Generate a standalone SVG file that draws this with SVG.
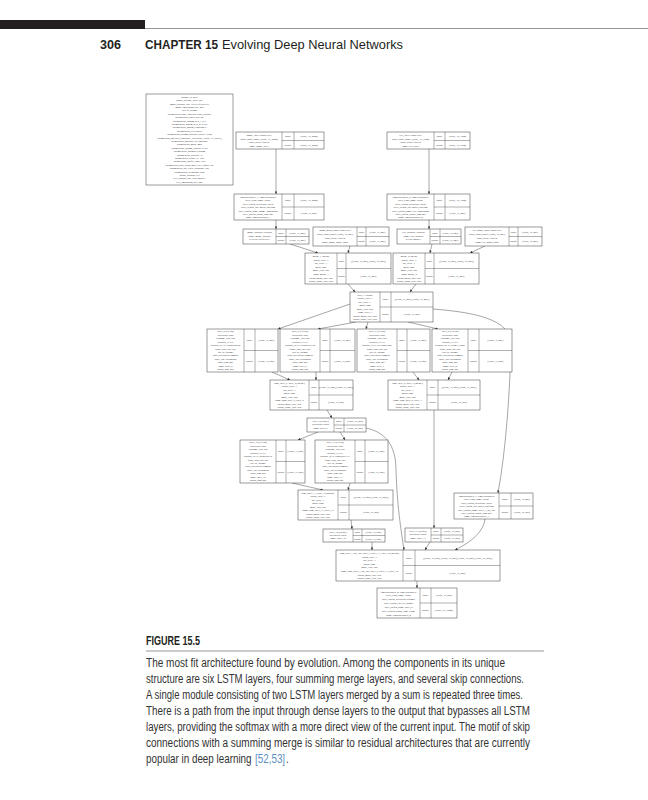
<svg xmlns="http://www.w3.org/2000/svg" width="648" height="800" viewBox="0 0 648 800">
<defs>
<style>
.nd rect{fill:#fff;stroke:#3a3a3a;stroke-width:.5}
.nd line{stroke:#3a3a3a;stroke-width:.4}
.nd text{font-family:"Liberation Serif",serif;font-size:2.5px;fill:#222;text-anchor:middle}
.e{fill:none;stroke:#3a3a3a;stroke-width:.45;marker-end:url(#ah)}
.hd{font-family:"Liberation Sans Narrow","Liberation Sans",sans-serif;font-size:13px;fill:#231f20}
.cap{font-family:"Liberation Sans Narrow","Liberation Sans",sans-serif;font-size:12px;fill:#333}
.capw{font-family:"Liberation Sans",sans-serif;font-size:12px;fill:#333}
.ref{fill:#5b8fc0}
</style>
<marker id="ah" viewBox="0 0 6 6" refX="6" refY="3" markerWidth="2.6" markerHeight="2.6" markerUnits="userSpaceOnUse" orient="auto"><path d="M0,0L6,3L0,6z" fill="#333"/></marker>
</defs>
<rect width="648" height="800" fill="#fff"/>
<g id="header">
<rect x="0" y="20" width="145" height="9" fill="#231f20"/>
<line x1="145" y1="28.5" x2="648" y2="28.5" stroke="#8a8a8a" stroke-width="0.9"/>
<text class="hd" x="100" y="49" font-weight="bold" font-size="14" textLength="21" lengthAdjust="spacingAndGlyphs">306</text>
<text class="hd" x="145" y="49" font-weight="bold" font-size="12.5" textLength="73" lengthAdjust="spacingAndGlyphs">CHAPTER 15</text>
<text class="hd" x="222" y="49" textLength="181" lengthAdjust="spacingAndGlyphs">Evolving Deep Neural Networks</text>
</g>
<g id="connectors">
<path class="e" d="M276,149L276,194"/>
<path class="e" d="M429,149L429,194"/>
<path class="e" d="M276,220L276,229"/>
<path class="e" d="M429,220L429,229"/>
<path class="e" d="M290,244L318,253"/>
<path class="e" d="M350,246L348,253"/>
<path class="e" d="M432,244L430,253"/>
<path class="e" d="M485,246L470,253"/>
<path class="e" d="M348,284L355,292"/>
<path class="e" d="M416,284L410,292"/>
<path class="e" d="M350,304L278,329"/>
<path class="e" d="M356,322L318,329"/>
<path class="e" d="M368,322L366,329"/>
<path class="e" d="M408,322L438,329"/>
<path class="e" d="M433,309C470,312 512,318 511,345C510,390 506,450 498,493"/>
<path class="e" d="M272,372L290,380"/>
<path class="e" d="M316,372L316,380"/>
<path class="e" d="M413,372L419,380"/>
<path class="e" d="M452,372L448,380"/>
<path class="e" d="M327,410L332,418"/>
<path class="e" d="M434,410L434,528"/>
<path class="e" d="M318,432L298,440"/>
<path class="e" d="M340,432L345,440"/>
<path class="e" d="M366,428C385,432 396,445 396,470C397,505 401,530 404,550"/>
<path class="e" d="M292,483L323,490"/>
<path class="e" d="M350,483L348,490"/>
<path class="e" d="M351,520L352,529"/>
<path class="e" d="M372,542L372,550"/>
<path class="e" d="M430,542L425,550"/>
<path class="e" d="M485,519C483,535 465,545 455,550"/>
<path class="e" d="M417,581L417,588"/>
</g>
<g id="hyperparams" class="nd">
<rect x="146" y="94" width="87" height="91"/>
<text x="189.5" y="97.8"><tspan x="189.5">chromo_id: 4576</tspan><tspan x="189.5" dy="3.4">global_average_pool: true</tspan><tspan x="189.5" dy="3.4">image_dropout_rate: 0.0161361661977</tspan><tspan x="189.5" dy="3.4">image_embedding_size: 427</tspan><tspan x="189.5" dy="3.4">init: he_normal</tspan><tspan x="189.5" dy="3.4">optimization_base_function: cross_entropy</tspan><tspan x="189.5" dy="3.4">optimization_batch_size: 26</tspan><tspan x="189.5" dy="3.4">optimization_nadam_beta_1: 0.9</tspan><tspan x="189.5" dy="3.4">optimization_nadam_beta_2: 0.999</tspan><tspan x="189.5" dy="3.4">optimization_nadam_clipnorm: 5</tspan><tspan x="189.5" dy="3.4">optimization_lr: 0.00215</tspan><tspan x="189.5" dy="3.4">optimization_nadam_schedule_decay: 0.004</tspan><tspan x="189.5" dy="3.4">optimization_metrics: ['fmeasure', 'precision', 'recall', 'f1_score']</tspan><tspan x="189.5" dy="3.4">optimization_monitor: val_fmeasure</tspan><tspan x="189.5" dy="3.4">optimization_mode: max</tspan><tspan x="189.5" dy="3.4">optimization_nadam_epsilon: 1e-08</tspan><tspan x="189.5" dy="3.4">optimization_optimizer: nadam</tspan><tspan x="189.5" dy="3.4">optimization_patience: 5</tspan><tspan x="189.5" dy="3.4">optimization_reduce_lr: True</tspan><tspan x="189.5" dy="3.4">optimization_shuffle_data: True</tspan><tspan x="189.5" dy="3.4">optimization_stop_avoid_max_text_length: 100</tspan><tspan x="189.5" dy="3.4">optimization_use_early_stopping: True</tspan><tspan x="189.5" dy="3.4">optimization_weighting: class</tspan><tspan x="189.5" dy="3.4">output_dropout: 0.0</tspan><tspan x="189.5" dy="3.4">text_dropout_rate: 0.271468071</tspan><tspan x="189.5" dy="3.4">text_embedding_size: 427</tspan></text>
</g>
<g id="image_layer" class="nd">
<rect x="236" y="132" width="88" height="17"/><line x1="282" y1="132" x2="282" y2="149"/><line x1="294" y1="132" x2="294" y2="149"/><line x1="282" y1="140.5" x2="324" y2="140.5"/>
<text x="259" y="136"><tspan x="259">image_layer: InputLayer</tspan><tspan x="259" dy="3.6">batch_input_shape: (None, 10, 2048)</tspan><tspan x="259" dy="3.6">input_dtype: float32</tspan><tspan x="259" dy="3.6">name: image_layer</tspan></text>
<text x="288" y="137.1">input:</text><text x="288" y="145.6">output:</text><text x="309" y="137.1">(None, 10, 2048)</text><text x="309" y="145.6">(None, 10, 2048)</text>
</g>
<g id="text_layer" class="nd">
<rect x="387" y="132" width="83" height="17"/><line x1="434" y1="132" x2="434" y2="149"/><line x1="445" y1="132" x2="445" y2="149"/><line x1="434" y1="140.5" x2="470" y2="140.5"/>
<text x="410.5" y="136"><tspan x="410.5">text_layer: InputLayer</tspan><tspan x="410.5" dy="3.6">batch_input_shape: (None, 10, 1024)</tspan><tspan x="410.5" dy="3.6">input_dtype: float32</tspan><tspan x="410.5" dy="3.6">name: text_layer</tspan></text>
<text x="439.5" y="137.1">input:</text><text x="439.5" y="145.6">output:</text><text x="457.5" y="137.1">(None, 10, 1024)</text><text x="457.5" y="145.6">(None, 10, 1024)</text>
</g>
<g id="timedistributed_1" class="nd">
<rect x="234" y="194" width="90" height="26"/><line x1="282" y1="194" x2="282" y2="220"/><line x1="294" y1="194" x2="294" y2="220"/><line x1="282" y1="207" x2="324" y2="207"/>
<text x="258" y="197.9"><tspan x="258">timedistributed_1: TimeDistributed</tspan><tspan x="258" dy="3.4">layer_class_name: Dense</tspan><tspan x="258" dy="3.4">layer_config_activation: linear</tspan><tspan x="258" dy="3.4">layer_config_init: glorot_uniform</tspan><tspan x="258" dy="3.4">layer_config_name: image_embedding</tspan><tspan x="258" dy="3.4">layer_config_output_dim: 427</tspan><tspan x="258" dy="3.4">name: timedistributed_1</tspan></text>
<text x="288" y="201.4">input:</text><text x="288" y="214.4">output:</text><text x="309" y="201.4">(None, 10, 2048)</text><text x="309" y="214.4">(None, 10, 427)</text>
</g>
<g id="timedistributed_2" class="nd">
<rect x="387" y="194" width="83" height="26"/><line x1="434" y1="194" x2="434" y2="220"/><line x1="445" y1="194" x2="445" y2="220"/><line x1="434" y1="207" x2="470" y2="207"/>
<text x="410.5" y="197.9"><tspan x="410.5">timedistributed_2: TimeDistributed</tspan><tspan x="410.5" dy="3.4">layer_class_name: Dense</tspan><tspan x="410.5" dy="3.4">layer_config_activation: linear</tspan><tspan x="410.5" dy="3.4">layer_config_init: glorot_uniform</tspan><tspan x="410.5" dy="3.4">layer_config_name: text_embedding</tspan><tspan x="410.5" dy="3.4">layer_config_output_dim: 427</tspan><tspan x="410.5" dy="3.4">name: timedistributed_2</tspan></text>
<text x="439.5" y="201.4">input:</text><text x="439.5" y="214.4">output:</text><text x="457.5" y="201.4">(None, 10, 1024)</text><text x="457.5" y="214.4">(None, 10, 427)</text>
</g>
<g id="image_dropout" class="nd">
<rect x="243" y="229" width="66" height="15"/><line x1="276" y1="229" x2="276" y2="244"/><line x1="286" y1="229" x2="286" y2="244"/><line x1="276" y1="236.5" x2="309" y2="236.5"/>
<text x="259.5" y="232.8"><tspan x="259.5">image_dropout: Dropout</tspan><tspan x="259.5" dy="3.7">name: image_dropout</tspan><tspan x="259.5" dy="3.7">p: 0.0161361661977</tspan></text>
<text x="281" y="233.6">input:</text><text x="281" y="241.1">output:</text><text x="297.5" y="233.6">(None, 10, 427)</text><text x="297.5" y="241.1">(None, 10, 427)</text>
</g>
<g id="image_mask_input" class="nd">
<rect x="313" y="227" width="76" height="19"/><line x1="357" y1="227" x2="357" y2="246"/><line x1="366" y1="227" x2="366" y2="246"/><line x1="357" y1="236.5" x2="389" y2="236.5"/>
<text x="335" y="231.1"><tspan x="335">image_mask_input: InputLayer</tspan><tspan x="335" dy="4">batch_input_shape: (None, 10, 427)</tspan><tspan x="335" dy="4">input_dtype: float32</tspan><tspan x="335" dy="4">name: image_mask_input</tspan></text>
<text x="361.5" y="232.7">input:</text><text x="361.5" y="242.1">output:</text><text x="377.5" y="232.7">(None, 10, 427)</text><text x="377.5" y="242.1">(None, 10, 427)</text>
</g>
<g id="text_dropout" class="nd">
<rect x="397" y="229" width="64" height="15"/><line x1="430" y1="229" x2="430" y2="244"/><line x1="440" y1="229" x2="440" y2="244"/><line x1="430" y1="236.5" x2="461" y2="236.5"/>
<text x="413.5" y="232.8"><tspan x="413.5">text_dropout: Dropout</tspan><tspan x="413.5" dy="3.7">name: text_dropout</tspan><tspan x="413.5" dy="3.7">p: 0.271468071</tspan></text>
<text x="435" y="233.6">input:</text><text x="435" y="241.1">output:</text><text x="450.5" y="233.6">(None, 10, 427)</text><text x="450.5" y="241.1">(None, 10, 427)</text>
</g>
<g id="text_mask_input" class="nd">
<rect x="465" y="227" width="77" height="19"/><line x1="509" y1="227" x2="509" y2="246"/><line x1="518" y1="227" x2="518" y2="246"/><line x1="509" y1="236.5" x2="542" y2="236.5"/>
<text x="487" y="231.1"><tspan x="487">text_mask_input: InputLayer</tspan><tspan x="487" dy="4">batch_input_shape: (None, 10, 427)</tspan><tspan x="487" dy="4">input_dtype: float32</tspan><tspan x="487" dy="4">name: text_mask_input</tspan></text>
<text x="513.5" y="232.7">input:</text><text x="513.5" y="242.1">output:</text><text x="530" y="232.7">(None, 10, 427)</text><text x="530" y="242.1">(None, 10, 427)</text>
</g>
<g id="merge_1" class="nd">
<rect x="305" y="253" width="86" height="31"/><line x1="337" y1="253" x2="337" y2="284"/><line x1="346" y1="253" x2="346" y2="284"/><line x1="337" y1="268.5" x2="391" y2="268.5"/>
<text x="321" y="256.9"><tspan x="321">merge_1: Merge</tspan><tspan x="321" dy="3.6">concat_axis: -1</tspan><tspan x="321" dy="3.6">dot_axes: -1</tspan><tspan x="321" dy="3.6">mode: mul</tspan><tspan x="321" dy="3.6">mode_type: raw</tspan><tspan x="321" dy="3.6">name: merge_1</tspan><tspan x="321" dy="3.6">output_mask_type: raw</tspan><tspan x="321" dy="3.6">output_shape_type: raw</tspan></text>
<text x="341.5" y="261.6">input:</text><text x="341.5" y="277.1">output:</text><text x="368.5" y="261.6">[(None, 10, 427), (None, 10, 427)]</text><text x="368.5" y="277.1">(None, 10, 427)</text>
</g>
<g id="merge_2" class="nd">
<rect x="393" y="253" width="86" height="31"/><line x1="425" y1="253" x2="425" y2="284"/><line x1="434" y1="253" x2="434" y2="284"/><line x1="425" y1="268.5" x2="479" y2="268.5"/>
<text x="409" y="256.9"><tspan x="409">merge_2: Merge</tspan><tspan x="409" dy="3.6">concat_axis: -1</tspan><tspan x="409" dy="3.6">dot_axes: -1</tspan><tspan x="409" dy="3.6">mode: mul</tspan><tspan x="409" dy="3.6">mode_type: raw</tspan><tspan x="409" dy="3.6">name: merge_2</tspan><tspan x="409" dy="3.6">output_mask_type: raw</tspan><tspan x="409" dy="3.6">output_shape_type: raw</tspan></text>
<text x="429.5" y="261.6">input:</text><text x="429.5" y="277.1">output:</text><text x="456.5" y="261.6">[(None, 10, 427), (None, 10, 427)]</text><text x="456.5" y="277.1">(None, 10, 427)</text>
</g>
<g id="layer_1" class="nd">
<rect x="350" y="292" width="83" height="30"/><line x1="380" y1="292" x2="380" y2="322"/><line x1="391" y1="292" x2="391" y2="322"/><line x1="380" y1="307" x2="433" y2="307"/>
<text x="365" y="295.8"><tspan x="365">layer_1: Merge</tspan><tspan x="365" dy="3.5">concat_axis: -1</tspan><tspan x="365" dy="3.5">dot_axes: -1</tspan><tspan x="365" dy="3.5">mode: sum</tspan><tspan x="365" dy="3.5">mode_type: raw</tspan><tspan x="365" dy="3.5">name: layer_1</tspan><tspan x="365" dy="3.5">output_mask_type: raw</tspan><tspan x="365" dy="3.5">output_shape_type: raw</tspan></text>
<text x="385.5" y="300.4">input:</text><text x="385.5" y="315.4">output:</text><text x="412" y="300.4">[(None, 10, 427), (None, 10, 427)]</text><text x="412" y="315.4">(None, 10, 427)</text>
</g>
<g id="layer_5" class="nd">
<rect x="207" y="329" width="71" height="43"/><line x1="244" y1="329" x2="244" y2="372"/><line x1="255" y1="329" x2="255" y2="372"/><line x1="244" y1="350.5" x2="278" y2="350.5"/>
<text x="225.5" y="332.4"><tspan x="225.5">layer_5 (LSTM)</tspan><tspan x="225.5" dy="3.42">activation: tanh</tspan><tspan x="225.5" dy="3.42">consume_less: cpu</tspan><tspan x="225.5" dy="3.42">dropout_U: 0.0</tspan><tspan x="225.5" dy="3.42">dropout_W: 0.116986578974</tspan><tspan x="225.5" dy="3.42">forget_bias_init: one</tspan><tspan x="225.5" dy="3.42">init: he_normal</tspan><tspan x="225.5" dy="3.42">inner_activation: sigmoid</tspan><tspan x="225.5" dy="3.42">inner_init: orthogonal</tspan><tspan x="225.5" dy="3.42">input_dim: 427</tspan><tspan x="225.5" dy="3.42">name: layer_5</tspan><tspan x="225.5" dy="3.42">output_dim: 256</tspan></text>
<text x="249.5" y="340.6">input:</text><text x="249.5" y="362.1">output:</text><text x="266.5" y="340.6">(None, 10, 427)</text><text x="266.5" y="362.1">(None, 10, 256)</text>
</g>
<g id="layer_6" class="nd">
<rect x="280" y="329" width="75" height="43"/><line x1="320" y1="329" x2="320" y2="372"/><line x1="330" y1="329" x2="330" y2="372"/><line x1="320" y1="350.5" x2="355" y2="350.5"/>
<text x="300" y="332.4"><tspan x="300">layer_6 (LSTM)</tspan><tspan x="300" dy="3.42">activation: tanh</tspan><tspan x="300" dy="3.42">consume_less: cpu</tspan><tspan x="300" dy="3.42">dropout_U: 0.0</tspan><tspan x="300" dy="3.42">dropout_W: 0.136958301734</tspan><tspan x="300" dy="3.42">forget_bias_init: one</tspan><tspan x="300" dy="3.42">init: he_normal</tspan><tspan x="300" dy="3.42">inner_activation: sigmoid</tspan><tspan x="300" dy="3.42">inner_init: orthogonal</tspan><tspan x="300" dy="3.42">input_dim: 427</tspan><tspan x="300" dy="3.42">name: layer_6</tspan><tspan x="300" dy="3.42">output_dim: 256</tspan></text>
<text x="325" y="340.6">input:</text><text x="325" y="362.1">output:</text><text x="342.5" y="340.6">(None, 10, 427)</text><text x="342.5" y="362.1">(None, 10, 256)</text>
</g>
<g id="layer_7" class="nd">
<rect x="357" y="329" width="73" height="43"/><line x1="397" y1="329" x2="397" y2="372"/><line x1="407" y1="329" x2="407" y2="372"/><line x1="397" y1="350.5" x2="430" y2="350.5"/>
<text x="377" y="332.4"><tspan x="377">layer_7 (LSTM)</tspan><tspan x="377" dy="3.42">activation: tanh</tspan><tspan x="377" dy="3.42">consume_less: cpu</tspan><tspan x="377" dy="3.42">dropout_U: 0.0</tspan><tspan x="377" dy="3.42">dropout_W: 0.101392417226</tspan><tspan x="377" dy="3.42">forget_bias_init: one</tspan><tspan x="377" dy="3.42">init: he_normal</tspan><tspan x="377" dy="3.42">inner_activation: sigmoid</tspan><tspan x="377" dy="3.42">inner_init: orthogonal</tspan><tspan x="377" dy="3.42">input_dim: 427</tspan><tspan x="377" dy="3.42">name: layer_7</tspan><tspan x="377" dy="3.42">output_dim: 256</tspan></text>
<text x="402" y="340.6">input:</text><text x="402" y="362.1">output:</text><text x="418.5" y="340.6">(None, 10, 427)</text><text x="418.5" y="362.1">(None, 10, 256)</text>
</g>
<g id="layer_8" class="nd">
<rect x="432" y="329" width="80" height="43"/><line x1="468" y1="329" x2="468" y2="372"/><line x1="479" y1="329" x2="479" y2="372"/><line x1="468" y1="350.5" x2="512" y2="350.5"/>
<text x="450" y="332.4"><tspan x="450">layer_8 (LSTM)</tspan><tspan x="450" dy="3.42">activation: tanh</tspan><tspan x="450" dy="3.42">consume_less: cpu</tspan><tspan x="450" dy="3.42">dropout_U: 0.0</tspan><tspan x="450" dy="3.42">dropout_W: 0.112041137549</tspan><tspan x="450" dy="3.42">forget_bias_init: one</tspan><tspan x="450" dy="3.42">init: he_normal</tspan><tspan x="450" dy="3.42">inner_activation: sigmoid</tspan><tspan x="450" dy="3.42">inner_init: orthogonal</tspan><tspan x="450" dy="3.42">input_dim: 427</tspan><tspan x="450" dy="3.42">name: layer_8</tspan><tspan x="450" dy="3.42">output_dim: 256</tspan></text>
<text x="473.5" y="340.6">input:</text><text x="473.5" y="362.1">output:</text><text x="495.5" y="340.6">(None, 10, 427)</text><text x="495.5" y="362.1">(None, 10, 256)</text>
</g>
<g id="sum_layer_6_layer_5" class="nd">
<rect x="270" y="380" width="83" height="30"/><line x1="309" y1="380" x2="309" y2="410"/><line x1="319" y1="380" x2="319" y2="410"/><line x1="309" y1="395" x2="353" y2="395"/>
<text x="289.5" y="383.8"><tspan x="289.5">sum_layer_6_layer_5 (Merge)</tspan><tspan x="289.5" dy="3.5">concat_axis: -1</tspan><tspan x="289.5" dy="3.5">dot_axes: -1</tspan><tspan x="289.5" dy="3.5">mode: sum</tspan><tspan x="289.5" dy="3.5">mode_type: raw</tspan><tspan x="289.5" dy="3.5">name: sum_layer_6_layer_5</tspan><tspan x="289.5" dy="3.5">output_mask_type: raw</tspan><tspan x="289.5" dy="3.5">output_shape_type: raw</tspan></text>
<text x="314" y="388.4">input:</text><text x="314" y="403.4">output:</text><text x="336" y="388.4">[(None, 10, 256), (None, 10, 256)]</text><text x="336" y="403.4">(None, 10, 256)</text>
</g>
<g id="sum_layer_8_layer_7" class="nd">
<rect x="388" y="380" width="92" height="30"/><line x1="427" y1="380" x2="427" y2="410"/><line x1="438" y1="380" x2="438" y2="410"/><line x1="427" y1="395" x2="480" y2="395"/>
<text x="407.5" y="383.8"><tspan x="407.5">sum_layer_8_layer_7 (Merge)</tspan><tspan x="407.5" dy="3.5">concat_axis: -1</tspan><tspan x="407.5" dy="3.5">dot_axes: -1</tspan><tspan x="407.5" dy="3.5">mode: sum</tspan><tspan x="407.5" dy="3.5">mode_type: raw</tspan><tspan x="407.5" dy="3.5">name: sum_layer_8_layer_7</tspan><tspan x="407.5" dy="3.5">output_mask_type: raw</tspan><tspan x="407.5" dy="3.5">output_shape_type: raw</tspan></text>
<text x="432.5" y="388.4">input:</text><text x="432.5" y="403.4">output:</text><text x="459" y="388.4">[(None, 10, 256), (None, 10, 256)]</text><text x="459" y="403.4">(None, 10, 256)</text>
</g>
<g id="layer_9" class="nd">
<rect x="307" y="418" width="59" height="14"/><line x1="334" y1="418" x2="334" y2="432"/><line x1="344" y1="418" x2="344" y2="432"/><line x1="334" y1="425" x2="366" y2="425"/>
<text x="320.5" y="421.8"><tspan x="320.5">layer_9 (Dense)</tspan><tspan x="320.5" dy="3.6">activation: linear</tspan><tspan x="320.5" dy="3.6">name: layer_9</tspan></text>
<text x="339" y="422.4">input:</text><text x="339" y="429.4">output:</text><text x="355" y="422.4">(None, 10, 256)</text><text x="355" y="429.4">(None, 10, 256)</text>
</g>
<g id="layer_10" class="nd">
<rect x="240" y="440" width="65" height="43"/><line x1="276" y1="440" x2="276" y2="483"/><line x1="286" y1="440" x2="286" y2="483"/><line x1="276" y1="461.5" x2="305" y2="461.5"/>
<text x="258" y="443.4"><tspan x="258">layer_10 (LSTM)</tspan><tspan x="258" dy="3.42">activation: tanh</tspan><tspan x="258" dy="3.42">consume_less: cpu</tspan><tspan x="258" dy="3.42">dropout_U: 0.0</tspan><tspan x="258" dy="3.42">dropout_W: 0.12385972112</tspan><tspan x="258" dy="3.42">forget_bias_init: one</tspan><tspan x="258" dy="3.42">init: he_normal</tspan><tspan x="258" dy="3.42">inner_activation: sigmoid</tspan><tspan x="258" dy="3.42">inner_init: orthogonal</tspan><tspan x="258" dy="3.42">input_dim: 256</tspan><tspan x="258" dy="3.42">name: layer_10</tspan><tspan x="258" dy="3.42">output_dim: 256</tspan></text>
<text x="281" y="451.6">input:</text><text x="281" y="473.1">output:</text><text x="295.5" y="451.6">(None, 10, 256)</text><text x="295.5" y="473.1">(None, 10, 256)</text>
</g>
<g id="layer_11" class="nd">
<rect x="315" y="440" width="73" height="43"/><line x1="355" y1="440" x2="355" y2="483"/><line x1="365" y1="440" x2="365" y2="483"/><line x1="355" y1="461.5" x2="388" y2="461.5"/>
<text x="335" y="443.4"><tspan x="335">layer_11 (LSTM)</tspan><tspan x="335" dy="3.42">activation: tanh</tspan><tspan x="335" dy="3.42">consume_less: cpu</tspan><tspan x="335" dy="3.42">dropout_U: 0.0</tspan><tspan x="335" dy="3.42">dropout_W: 0.104896907317</tspan><tspan x="335" dy="3.42">forget_bias_init: one</tspan><tspan x="335" dy="3.42">init: he_normal</tspan><tspan x="335" dy="3.42">inner_activation: sigmoid</tspan><tspan x="335" dy="3.42">inner_init: orthogonal</tspan><tspan x="335" dy="3.42">input_dim: 256</tspan><tspan x="335" dy="3.42">name: layer_11</tspan><tspan x="335" dy="3.42">output_dim: 256</tspan></text>
<text x="360" y="451.6">input:</text><text x="360" y="473.1">output:</text><text x="376.5" y="451.6">(None, 10, 256)</text><text x="376.5" y="473.1">(None, 10, 256)</text>
</g>
<g id="sum_layer_11_layer_10" class="nd">
<rect x="298" y="490" width="95" height="30"/><line x1="338" y1="490" x2="338" y2="520"/><line x1="349" y1="490" x2="349" y2="520"/><line x1="338" y1="505" x2="393" y2="505"/>
<text x="318" y="493.8"><tspan x="318">sum_layer_11_layer_10 (Merge)</tspan><tspan x="318" dy="3.5">concat_axis: -1</tspan><tspan x="318" dy="3.5">dot_axes: -1</tspan><tspan x="318" dy="3.5">mode: sum</tspan><tspan x="318" dy="3.5">mode_type: raw</tspan><tspan x="318" dy="3.5">name: sum_layer_11_layer_10</tspan><tspan x="318" dy="3.5">output_mask_type: raw</tspan><tspan x="318" dy="3.5">output_shape_type: raw</tspan></text>
<text x="343.5" y="498.4">input:</text><text x="343.5" y="513.4">output:</text><text x="371" y="498.4">[(None, 10, 256), (None, 10, 256)]</text><text x="371" y="513.4">(None, 10, 256)</text>
</g>
<g id="timedistributed_3" class="nd">
<rect x="454" y="493" width="79" height="26"/><line x1="499" y1="493" x2="499" y2="519"/><line x1="511" y1="493" x2="511" y2="519"/><line x1="499" y1="506" x2="533" y2="506"/>
<text x="476.5" y="496.9"><tspan x="476.5">timedistributed_3: TimeDistributed</tspan><tspan x="476.5" dy="3.4">layer_class_name: Dense</tspan><tspan x="476.5" dy="3.4">layer_config_activation: linear</tspan><tspan x="476.5" dy="3.4">layer_config_init: glorot_uniform</tspan><tspan x="476.5" dy="3.4">layer_config_name: layer_1_dn_356</tspan><tspan x="476.5" dy="3.4">layer_config_output_dim: 256</tspan><tspan x="476.5" dy="3.4">name: timedistributed_3</tspan></text>
<text x="505" y="500.4">input:</text><text x="505" y="513.4">output:</text><text x="522" y="500.4">(None, 10, 427)</text><text x="522" y="513.4">(None, 10, 256)</text>
</g>
<g id="layer_12" class="nd">
<rect x="323" y="529" width="62" height="13"/><line x1="353" y1="529" x2="353" y2="542"/><line x1="362" y1="529" x2="362" y2="542"/><line x1="353" y1="535.5" x2="385" y2="535.5"/>
<text x="338" y="532.5"><tspan x="338">layer_12 (Dense)</tspan><tspan x="338" dy="3.3">activation: linear</tspan><tspan x="338" dy="3.3">name: layer_12</tspan></text>
<text x="357.5" y="533.2">input:</text><text x="357.5" y="539.7">output:</text><text x="373.5" y="533.2">(None, 10, 256)</text><text x="373.5" y="539.7">(None, 10, 256)</text>
</g>
<g id="layer_13" class="nd">
<rect x="405" y="528" width="58" height="14"/><line x1="431" y1="528" x2="431" y2="542"/><line x1="441" y1="528" x2="441" y2="542"/><line x1="431" y1="535" x2="463" y2="535"/>
<text x="418" y="531.8"><tspan x="418">layer_13 (Dense)</tspan><tspan x="418" dy="3.6">activation: linear</tspan><tspan x="418" dy="3.6">name: layer_13</tspan></text>
<text x="436" y="532.4">input:</text><text x="436" y="539.4">output:</text><text x="452" y="532.4">(None, 10, 256)</text><text x="452" y="539.4">(None, 10, 256)</text>
</g>
<g id="sum_final" class="nd">
<rect x="336" y="550" width="164" height="31"/><line x1="403" y1="550" x2="403" y2="581"/><line x1="415" y1="550" x2="415" y2="581"/><line x1="403" y1="565.5" x2="500" y2="565.5"/>
<text x="369.5" y="553.9"><tspan x="369.5">sum_layer_1_dn_356_layer_9_layer_13_layer_12 (Merge)</tspan><tspan x="369.5" dy="3.6">concat_axis: -1</tspan><tspan x="369.5" dy="3.6">dot_axes: -1</tspan><tspan x="369.5" dy="3.6">mode: sum</tspan><tspan x="369.5" dy="3.6">mode_type: raw</tspan><tspan x="369.5" dy="3.6">name: sum_layer_1_dn_356_layer_9_layer_13_layer_12</tspan><tspan x="369.5" dy="3.6">output_mask_type: raw</tspan><tspan x="369.5" dy="3.6">output_shape_type: raw</tspan></text>
<text x="409" y="558.6">input:</text><text x="409" y="574.1">output:</text><text x="457.5" y="558.6">[(None, 10, 256), (None, 10, 256), (None, 10, 256), (None, 10, 256)]</text><text x="457.5" y="574.1">(None, 10, 256)</text>
</g>
<g id="timedistributed_4" class="nd">
<rect x="377" y="588" width="80" height="30"/><line x1="420" y1="588" x2="420" y2="618"/><line x1="431" y1="588" x2="431" y2="618"/><line x1="420" y1="603" x2="457" y2="603"/>
<text x="398.5" y="592.5"><tspan x="398.5">timedistributed_4: TimeDistributed</tspan><tspan x="398.5" dy="3.9">layer_class_name: Dense</tspan><tspan x="398.5" dy="3.9">layer_config_activation: softmax</tspan><tspan x="398.5" dy="3.9">layer_config_init: he_normal</tspan><tspan x="398.5" dy="3.9">layer_config_name: layer_2</tspan><tspan x="398.5" dy="3.9">layer_config_output_dim: 10240</tspan><tspan x="398.5" dy="3.9">name: timedistributed_4</tspan></text>
<text x="425.5" y="596.4">input:</text><text x="425.5" y="611.4">output:</text><text x="444" y="596.4">(None, 10, 256)</text><text x="444" y="611.4">(None, 10, 10240)</text>
</g>
<g id="caption">
<text class="cap" x="146" y="645" font-weight="bold" style="fill:#231f20" textLength="54" lengthAdjust="spacingAndGlyphs">FIGURE 15.5</text>
<line x1="146" y1="651" x2="544" y2="651" stroke="#8a8a8a" stroke-width="0.9"/>
<text class="cap" x="146" y="667" textLength="359" lengthAdjust="spacingAndGlyphs">The most fit architecture found by evolution. Among the components in its unique</text>
<text class="cap" x="146" y="683" textLength="378" lengthAdjust="spacingAndGlyphs">structure are six LSTM layers, four summing merge layers, and several skip connections.</text>
<text class="cap" x="146" y="699" textLength="377" lengthAdjust="spacingAndGlyphs">A single module consisting of two LSTM layers merged by a sum is repeated three times.</text>
<text class="cap" x="146" y="715" textLength="384" lengthAdjust="spacingAndGlyphs">There is a path from the input through dense layers to the output that bypasses all LSTM</text>
<text class="cap" x="146" y="731" textLength="384" lengthAdjust="spacingAndGlyphs">layers, providing the softmax with a more direct view of the current input. The motif of skip</text>
<text class="cap" x="146" y="747" textLength="384" lengthAdjust="spacingAndGlyphs">connections with a summing merge is similar to residual architectures that are currently</text>
<text class="capw" transform="translate(146 763) scale(0.82 1)">popular in deep learning</text>
<text class="capw ref" transform="translate(255 763) scale(0.82 1)">[52,53]</text>
<text class="capw" transform="translate(286 763) scale(0.82 1)">.</text>
</g>
</svg>
